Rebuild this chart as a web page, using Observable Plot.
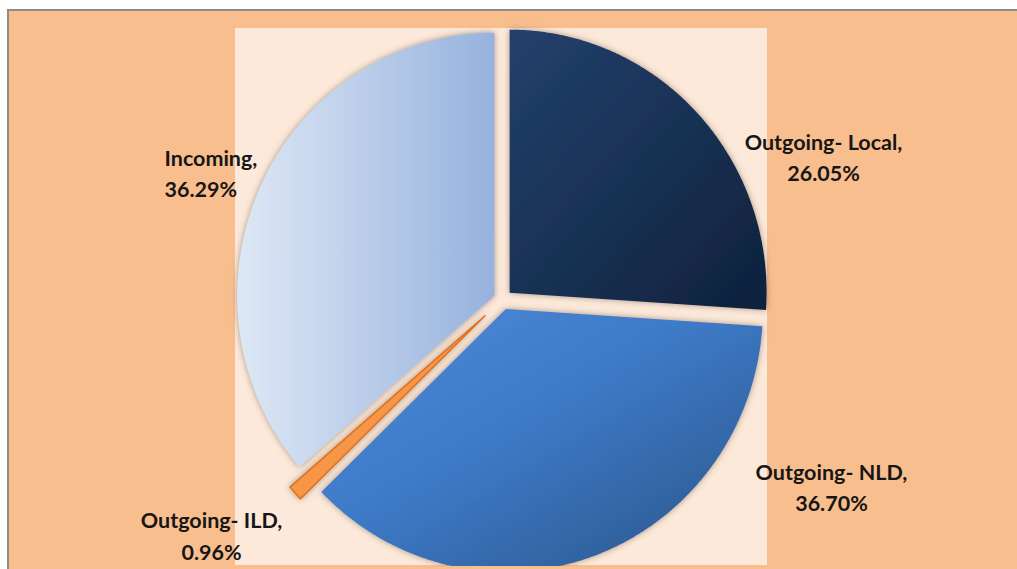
<!DOCTYPE html>
<html>
<head>
<meta charset="utf-8">
<script src="https://cdn.jsdelivr.net/npm/d3@7"></script>
<script src="https://cdn.jsdelivr.net/npm/@observablehq/plot@0.6"></script>
<style>
  html, body { margin: 0; padding: 0; background: #ffffff; width: 1017px; height: 569px; overflow: hidden; }
  #frame { position: absolute; left: 7px; top: 9px; width: 1010px; height: 560px; background: #F9BE8E;
           border-top: 2px solid #8c8c8c; border-left: 2px solid #8c8c8c; box-sizing: border-box; }
  #panel { position: absolute; left: 235px; top: 28px; width: 532px; height: 537px; background: #FCE9DA; }
  #chart { position: absolute; left: 0; top: 0; width: 1017px; height: 566px; overflow: hidden; }
  #chart svg { display: block; }
</style>
</head>
<body>
<div id="frame"></div>
<div id="panel"></div>
<div id="chart"></div>
<script>
// ---- data ----
const categories = ["Outgoing- Local", "Outgoing- NLD", "Outgoing- ILD", "Incoming"];
const shares = [26.05, 36.70, 0.96, 36.29];

// ---- styling / layout (not data) ----
const fills = ["url(#gLocal)", "url(#gNLD)", "#F79646", "url(#gIncoming)"];
const strokes = ["none", "none", "#E0701C", "none"];
const explode = [0.038, 0.038, 0.092, 0.035];
// label anchor positions in pie-radius units (centre = 0,0), same order as categories
const labelPos = [[1.249, 0.549], [1.280, -0.707], [-1.132, -0.892], [-1.315, 0.488]];
const labelAnchor = ["middle", "middle", "middle", "start"];

const W = 1017, H = 569;
const cx = 502, cy = 299, rx = 257, ry = 263;

const arcs = d3.pie().sort(null).value(d => d).startAngle(0).endAngle(2 * Math.PI)(shares);

const slices = arcs.map((a, i) => {
  const m = (a.startAngle + a.endAngle) / 2;
  const ox = explode[i] * Math.sin(m), oy = explode[i] * Math.cos(m);
  const n = Math.max(2, Math.ceil((a.endAngle - a.startAngle) / 0.008));
  const pts = [{x: ox, y: oy}];
  for (let k = 0; k <= n; k++) {
    const t = a.startAngle + (a.endAngle - a.startAngle) * k / n;
    pts.push({x: ox + Math.sin(t), y: oy + Math.cos(t)});
  }
  return pts;
});

const labels = categories.map((c, i) => ({
  text: `${c},\n${shares[i].toFixed(2)}%`,
  x: labelPos[i][0], y: labelPos[i][1], anchor: labelAnchor[i]
}));

const marks = slices.map((pts, i) => Plot.line(pts, {
  x: "x", y: "y", curve: "linear-closed",
  fill: fills[i], stroke: strokes[i], strokeWidth: strokes[i] === "none" ? 0 : 1.5
}));

for (const a of ["middle", "start"]) {
  marks.push(Plot.text(labels.filter(d => d.anchor === a), {
    x: "x", y: "y", text: "text", textAnchor: a, lineHeight: 1.45,
    fontSize: 21.5, fontWeight: "bold", fill: "#161616"
  }));
}

const plot = Plot.plot({
  width: W, height: H,
  marginTop: 0, marginRight: 0, marginBottom: 0, marginLeft: 0,
  x: {domain: [-cx / rx, (W - cx) / rx], axis: null},
  y: {domain: [(cy - H) / ry, cy / ry], axis: null},
  style: {background: "transparent", fontFamily: "Lato, 'Open Sans', sans-serif", overflow: "hidden"},
  marks
});

const svg = d3.select(plot);
const defs = svg.insert("defs", ":first-child");
function grad(id, x2, y2, stops) {
  const g = defs.append("linearGradient").attr("id", id)
    .attr("x1", 0).attr("y1", 0).attr("x2", x2).attr("y2", y2);
  stops.forEach(([o, c]) => g.append("stop").attr("offset", o).attr("stop-color", c));
}
grad("gLocal", 1, 1, [[0, "#23416C"], [1, "#0E213B"]]);
grad("gNLD", 1, 1, [[0, "#4C8CDB"], [0.45, "#3D79C6"], [1, "#2A5486"]]);
grad("gIncoming", 1, 0, [[0, "#DEE8F5"], [1, "#97B2DE"]]);
const f = defs.append("filter").attr("id", "shadow")
  .attr("x", "-10%").attr("y", "-10%").attr("width", "120%").attr("height", "120%");
f.append("feDropShadow").attr("dx", 0).attr("dy", 0).attr("stdDeviation", 3)
  .attr("flood-color", "#6e5a48").attr("flood-opacity", 0.6);

svg.selectAll("g[aria-label='line']").attr("filter", "url(#shadow)");

document.getElementById("chart").appendChild(plot);
</script>
</body>
</html>
